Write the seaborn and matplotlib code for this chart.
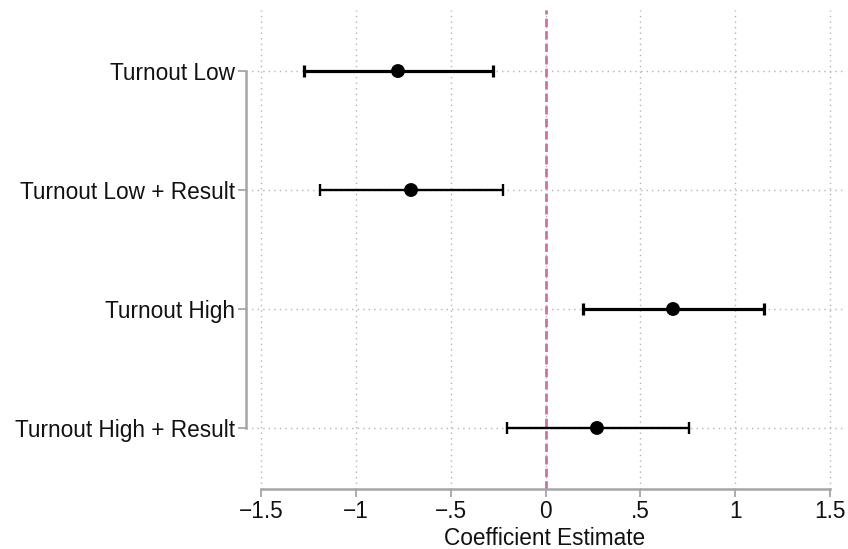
#!/usr/bin/env python3
"""
Coefficient plot of turnout effects
"""

import numpy as np
import pandas as pd
import matplotlib
matplotlib.use('Agg')
import matplotlib.pyplot as plt
import seaborn as sns

# Estimates
terms = ['Turnout Low', 'Turnout Low + Result', 'Turnout High', 'Turnout High + Result']
estimates = [-0.778, -0.709, 0.672, 0.271]
ci_low = [-1.273, -1.189, 0.198, -0.203]
ci_high = [-0.277, -0.224, 1.152, 0.756]
x_ticks = [-1.5, -1, -0.5, 0, 0.5, 1, 1.5]
x_tick_labels = ['\u22121.5', '\u22121', '\u2212.5', '0', '.5', '1', '1.5']

df = pd.DataFrame({'term': terms, 'estimate': estimates, 'lo': ci_low, 'hi': ci_high})
df['pos'] = np.arange(len(df))

sns.set_style('white')
plt.rcParams['font.family'] = ['Liberation Sans', 'DejaVu Sans']
plt.rcParams['text.color'] = '#111111'
plt.rcParams['xtick.labelcolor'] = '#111111'
plt.rcParams['ytick.labelcolor'] = '#111111'
plt.rcParams['axes.labelcolor'] = '#111111'

fig = plt.figure(figsize=(8.48, 5.49), dpi=100)
ax = fig.add_axes([246 / 848, 1 - 489 / 549, (843 - 246) / 848, (489 - 10) / 549])

grid_col = '#b4b4b4'
for xt in x_ticks:
    ax.axvline(xt, color=grid_col, lw=1.0, ls=(0, (1, 3)), zorder=0)
for yp in df['pos']:
    ax.axhline(yp, color=grid_col, lw=1.0, ls=(0, (1, 3)), zorder=0)

ax.axvline(0, color='#d070a8', lw=2.0, ls=(0, (3, 1.5)), zorder=1)

# heavier bars on the first and third rows, as in the original
widths = [2.3, 1.7, 2.3, 1.7]
for i, row in df.iterrows():
    ax.errorbar(row['estimate'], row['pos'],
                xerr=[[row['estimate'] - row['lo']], [row['hi'] - row['estimate']]],
                fmt='none', ecolor='black', elinewidth=widths[i],
                capsize=4.5, capthick=widths[i], zorder=2)

sns.scatterplot(data=df, x='estimate', y='pos', color='black', s=100,
                edgecolor='none', zorder=3, ax=ax, legend=False)

ax.set_xlim(-1.579, 1.568)
ax.set_ylim(len(df) - 1 + 0.513, -0.513)
ax.set_yticks(df['pos'])
ax.set_yticklabels(terms)
ax.set_xticks(x_ticks)
ax.set_xticklabels(x_tick_labels)
ax.set_xlabel('Coefficient Estimate', fontsize=16.3, labelpad=2.8)
ax.set_ylabel('')

spine_col = '#a6a6a6'
for side in ['top', 'right']:
    ax.spines[side].set_visible(False)
ax.spines['left'].set_bounds(0, len(df) - 1)
ax.spines['bottom'].set_bounds(-1.5, 1.5)
for side in ['left', 'bottom']:
    ax.spines[side].set_color(spine_col)
    ax.spines[side].set_linewidth(1.8)
ax.tick_params(axis='both', which='major', direction='out', length=6,
               width=1.3, color=spine_col, labelsize=16.3, pad=2,
               left=True, bottom=True)

plt.savefig('out.png', dpi=100)
